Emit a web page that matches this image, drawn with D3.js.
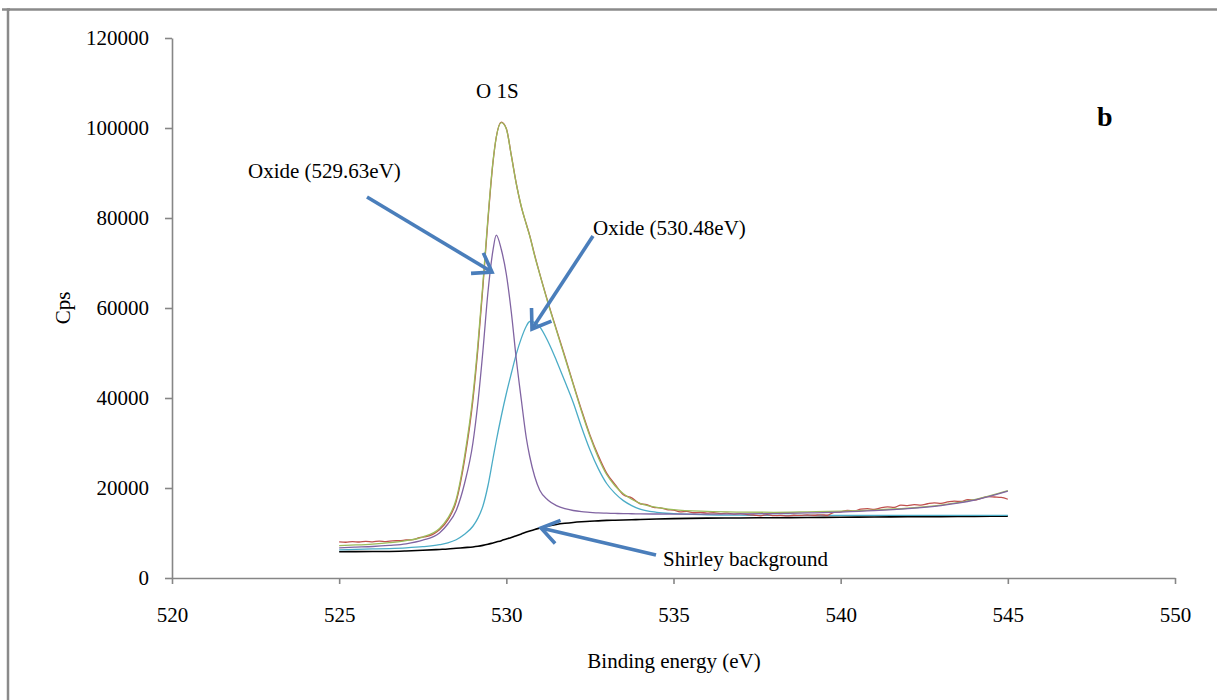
<!DOCTYPE html>
<html lang="en">
<head>
<meta charset="UTF-8">
<title>O 1S</title>
<script src="https://d3js.org/d3.v7.min.js"></script>
<style>
  body { margin: 0; background: #fff; }
  svg { display: block; }
  text { font-family: "Times New Roman", "Liberation Serif", serif; }
</style>
</head>
<body>
<svg></svg>
<script>
// binding energy grid (eV) used by the fitted curves
const energy = [525, 525.5, 526, 526.5, 527, 527.5, 528, 528.25, 528.5, 528.75, 529,
  529.15, 529.3, 529.45, 529.6, 529.7, 529.85, 530, 530.15, 530.3, 530.45, 530.6, 530.7,
  530.85, 531, 531.25, 531.5, 531.75, 532, 532.25, 532.5, 532.75, 533, 533.25, 533.5,
  533.75, 534, 534.5, 535, 536, 537, 538, 539, 540, 541, 542, 543, 544, 545];

const shirley = [5850, 5860, 5880, 5900, 6000, 6150, 6350, 6450, 6600, 6750, 6900,
  7050, 7250, 7500, 7800, 8000, 8300, 8650, 9000, 9400, 9800, 10200, 10450,
  10800, 11100, 11550, 11900, 12150, 12350, 12500, 12620, 12700, 12800, 12850, 12900,
  12950, 13000, 13100, 13200, 13300, 13350, 13400, 13450, 13500, 13550, 13600, 13650, 13700, 13750];

const oxide1 = [6700, 6850, 7000, 7250, 7600, 8400, 10000, 12000, 15000, 21000, 30000,
  39000, 50500, 63500, 72800, 76200, 73000, 67500, 59000, 48500, 39500, 31000, 27000,
  22500, 19500, 17300, 16100, 15400, 15000, 14750, 14600, 14450, 14400, 14350, 14300,
  14280, 14250, 14220, 14200, 14200, 14250, 14300, 14450, 14650, 14950, 15400, 16100, 17300, 19300];

const oxide2 = [6270, 6350, 6450, 6550, 6700, 6950, 7400, 7800, 8500, 9700, 11500,
  13300, 16000, 20500, 26500, 30500, 36000, 41000, 45500, 49800, 53300, 56000, 57000,
  56800, 55800, 52500, 48300, 43700, 39000, 33500, 28500, 24300, 21000, 18800, 17200,
  16100, 15300, 14600, 14300, 14050, 13950, 13900, 13900, 13900, 13900, 13900, 13900, 13900, 13900];

const envelope = [7200, 7350, 7550, 7850, 8300, 9100, 11000, 13300, 17500, 27000, 40500,
  52000, 65500, 80000, 92500, 98000, 101200, 99800, 93800, 87500, 82500, 78500, 76000,
  71500, 67500, 61000, 55000, 49000, 43000, 37000, 31500, 26800, 23000, 20500, 18700,
  17500, 16600, 15700, 15200, 14800, 14650, 14600, 14700, 14850, 15100, 15500, 16200, 17400, 19400];

// measured counts (own energy grid)
const rawEnergy = [525, 525.2, 525.4, 525.6, 525.8, 526, 526.2, 526.4, 526.6, 526.8, 527,
  527.2, 527.4, 527.6, 527.8, 528, 528.25, 528.5, 528.75, 529, 529.15, 529.3, 529.45,
  529.6, 529.7, 529.85, 530, 530.15, 530.3, 530.45, 530.6, 530.7, 530.85, 531, 531.25,
  531.5, 531.75, 532, 532.25, 532.5, 532.75, 533, 533.25, 533.5, 533.75, 534,
  534.2, 534.4, 534.6, 534.8, 535, 535.2, 535.4, 535.6, 535.8, 536, 536.2, 536.4, 536.6,
  536.8, 537, 537.2, 537.4, 537.6, 537.8, 538, 538.2, 538.4, 538.6, 538.8, 539, 539.2,
  539.4, 539.6, 539.8, 540, 540.2, 540.4, 540.6, 540.8, 541, 541.2, 541.4, 541.6, 541.8,
  542, 542.2, 542.4, 542.6, 542.8, 543, 543.2, 543.4, 543.6, 543.8, 544, 544.2, 544.4,
  544.6, 544.8, 545];

const rawCps = [8050, 7950, 8100, 8000, 8150, 8050, 8200, 8100, 8250, 8300, 8450,
  8550, 8950, 9200, 9700, 10700, 12900, 17000, 26200, 39500, 51000, 64800, 79500,
  92300, 98000, 101300, 99900, 93900, 87600, 82400, 78600, 76100, 71700, 67600, 61200,
  55200, 49300, 43200, 37300, 31800, 27200, 23300, 20800, 18500, 17800, 16500,
  16300, 15700, 15600, 15200, 15100, 14700, 14800, 14500, 14600, 14400, 14500, 14300, 14400,
  14200, 14300, 14100, 14000, 13800, 14100, 13850, 13900, 13800, 13950, 13900, 14000, 13950,
  14050, 13950, 14600, 14700, 15000, 14900, 15300, 15400, 15250, 15600, 15800, 15700, 16200,
  16100, 16300, 16200, 16500, 16700, 16600, 16900, 17100, 17000, 17400, 17300, 17700, 18100,
  18000, 17900, 17500];

const xTicks = [520, 525, 530, 535, 540, 545, 550];
const yTicks = [0, 20000, 40000, 60000, 80000, 100000, 120000];

const width = 1217, height = 700;
const fontSize = 21;

const svg = d3.select("svg").attr("width", width).attr("height", height);

// outer frame
svg.append("rect")
  .attr("x", 8).attr("y", 9.5)
  .attr("width", 1300).attr("height", 800)
  .attr("fill", "none").attr("stroke", "#8a8a8a").attr("stroke-width", 2.5);
svg.append("line")
  .attr("x1", 2).attr("x2", 10).attr("y1", 9.5).attr("y2", 9.5)
  .attr("stroke", "#8a8a8a").attr("stroke-width", 2.5);

const x = d3.scaleLinear().domain([520, 550]).range([172, 1175]);
const y = d3.scaleLinear().domain([0, 120000]).range([578, 38]);

const yAxis = svg.append("g")
  .attr("transform", `translate(${x(520)},0)`)
  .call(d3.axisLeft(y).tickValues(yTicks).tickSize(7).tickSizeOuter(0).tickPadding(16).tickFormat(d3.format("d")));

const xAxis = svg.append("g")
  .attr("transform", `translate(0,${y(0)})`)
  .call(d3.axisBottom(x).tickValues(xTicks).tickSize(6).tickSizeOuter(0).tickPadding(23));

[xAxis, yAxis].forEach(g => {
  g.selectAll("path, line").attr("stroke", "#868686").attr("stroke-width", 1.6);
  g.selectAll("text").attr("fill", "#000").style("font-family", '"Times New Roman", "Liberation Serif", serif').style("font-size", fontSize + "px");
});

const line = d3.line().curve(d3.curveMonotoneX);

const fitted = [
  { name: "shirley", values: shirley, color: "#000000" },
  { name: "oxide2", values: oxide2, color: "#4bacc6" },
  { name: "raw", values: rawCps, color: "#c0504d", xs: rawEnergy },
  { name: "envelope", values: envelope, color: "#9bbb59" },
  { name: "oxide1", values: oxide1, color: "#8064a2" }
];

svg.append("g")
  .selectAll("path")
  .data(fitted)
  .join("path")
  .attr("fill", "none")
  .attr("stroke", d => d.color)
  .attr("stroke-width", d => d.name == "shirley" ? 1.6 : 1.3)
  .attr("d", d => line((d.xs || energy).map((e, i) => [x(e), y(d.values[i])])));

// annotation arrows (open heads)
const arrows = [
  { from: [367, 197], to: [492, 272] },
  { from: [593, 236], to: [532, 329] },
  { from: [656, 555], to: [541, 528] }
];

const ag = svg.append("g")
  .attr("stroke", "#4a7ebb").attr("stroke-width", 3.6)
  .attr("fill", "none").attr("stroke-linecap", "butt");

arrows.forEach(a => {
  const [x0, y0] = a.from, [x1, y1] = a.to;
  const ang = Math.atan2(y1 - y0, x1 - x0);
  const len = 21, spread = Math.PI / 5.2;
  ag.append("line").attr("x1", x0).attr("y1", y0).attr("x2", x1).attr("y2", y1);
  ag.append("polyline").attr("points", [
    [x1 - len * Math.cos(ang - spread), y1 - len * Math.sin(ang - spread)],
    [x1, y1],
    [x1 - len * Math.cos(ang + spread), y1 - len * Math.sin(ang + spread)]
  ].map(p => p.join(",")).join(" "));
});

const labels = [
  { text: "O 1S", x: 476, y: 98 },
  { text: "Oxide (529.63eV)", x: 248, y: 178 },
  { text: "Oxide (530.48eV)", x: 593, y: 235 },
  { text: "Shirley background", x: 663, y: 566 }
];

svg.append("g")
  .selectAll("text")
  .data(labels)
  .join("text")
  .attr("x", d => d.x).attr("y", d => d.y)
  .style("font-size", fontSize + "px")
  .text(d => d.text);

svg.append("text")
  .attr("x", 1097).attr("y", 126)
  .style("font-size", "28px").style("font-weight", "bold")
  .text("b");

svg.append("text")
  .attr("transform", "translate(70,308) rotate(-90)")
  .attr("text-anchor", "middle")
  .style("font-size", fontSize + "px")
  .text("Cps");

svg.append("text")
  .attr("x", 674).attr("y", 668)
  .attr("text-anchor", "middle")
  .style("font-size", fontSize + "px")
  .text("Binding energy (eV)");
</script>
</body>
</html>
